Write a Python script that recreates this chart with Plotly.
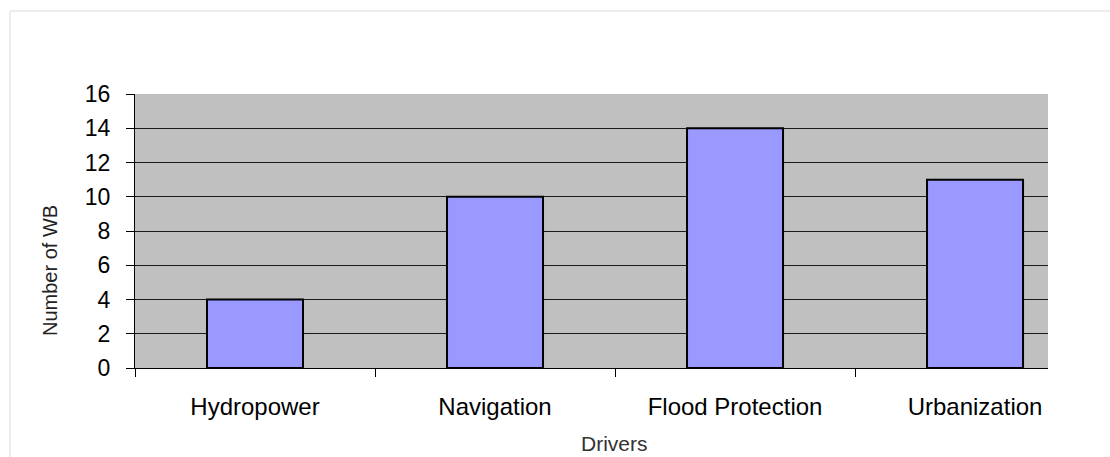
import plotly.graph_objects as go

# Drivers and number of water bodies affected
drivers = ["Hydropower", "Navigation", "Flood Protection", "Urbanization"]
num_wb = [4, 10, 14, 11]
y_ticks = [0, 2, 4, 6, 8, 10, 12, 14, 16]

W, H = 1110, 457
L, R, T, B = 135, 62, 94, 89
pw, ph = W - L - R, H - T - B


def px_x(px):
    return (px - L) / pw


def px_y(py):
    return (H - B - py) / ph


fig = go.Figure()
fig.add_trace(go.Bar(
    x=drivers,
    y=num_wb,
    width=0.4,
    marker=dict(color="#9999FF", line=dict(color="#000000", width=2)),
    hoverinfo="x+y",
))

fig.update_layout(
    width=W,
    height=H,
    margin=dict(l=L, r=R, t=T, b=B),
    paper_bgcolor="#FFFFFF",
    plot_bgcolor="#C0C0C0",
    showlegend=False,
    bargap=0.6,
    font=dict(family="Arial, Liberation Sans, sans-serif", color="#000000"),
    xaxis=dict(
        type="category",
        range=[-0.5, 3.304],
        tickson="boundaries",
        ticks="outside",
        ticklen=8,
        tickcolor="#000000",
        tickwidth=1,
        ticklabelstandoff=17,
        showline=True,
        linecolor="#000000",
        linewidth=1,
        showgrid=False,
        zeroline=False,
        tickfont=dict(size=24, color="#000000"),
        fixedrange=True,
    ),
    yaxis=dict(
        range=[0, 16],
        tickvals=y_ticks,
        ticks="outside",
        ticklen=8,
        tickcolor="#000000",
        tickwidth=1,
        ticklabelstandoff=11,
        showline=True,
        linecolor="#000000",
        linewidth=1,
        showgrid=True,
        gridcolor="#1A1A1A",
        gridwidth=1,
        zeroline=False,
        tickfont=dict(size=23, color="#000000"),
        fixedrange=True,
    ),
    annotations=[
        dict(
            text="Number of WB", textangle=-90,
            x=px_x(50), y=px_y(271), xref="paper", yref="paper",
            xanchor="center", yanchor="middle", showarrow=False,
            font=dict(size=20, color="#222222"),
        ),
        dict(
            text="Drivers",
            x=px_x(614), y=px_y(444), xref="paper", yref="paper",
            xanchor="center", yanchor="middle", showarrow=False,
            font=dict(size=21, color="#333333"),
        ),
    ],
    shapes=[
        dict(type="line", xref="paper", yref="paper",
             x0=px_x(10), x1=px_x(W + 5), y0=px_y(11), y1=px_y(11),
             line=dict(color="#D9D9D9", width=1)),
        dict(type="line", xref="paper", yref="paper",
             x0=px_x(10), x1=px_x(10), y0=px_y(11), y1=px_y(H + 5),
             line=dict(color="#D9D9D9", width=1)),
    ],
)

fig.write_html("out.html", config={"displayModeBar": False})
